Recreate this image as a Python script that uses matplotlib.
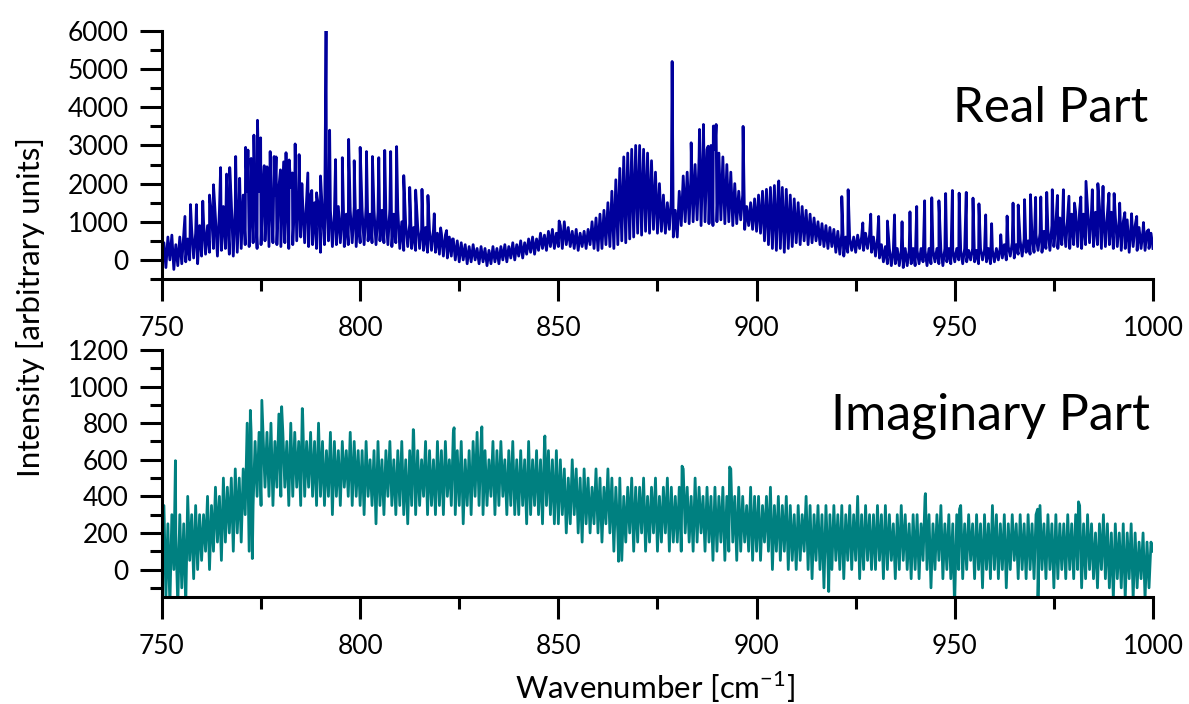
import matplotlib
matplotlib.use("Agg")
import matplotlib.pyplot as plt
from matplotlib.ticker import MultipleLocator

plt.rcParams["font.family"] = ["Lato", "DejaVu Sans"]
plt.rcParams["mathtext.fontset"] = "custom"
plt.rcParams["mathtext.rm"] = "Lato"

# Wavenumber grid: band minima at integer wavenumbers, band maxima at the half steps
WN_START = 750

# ---- Real part -------------------------------------------------------------
real_low = [
    -100, -200, 0, -250, -150, -100, -50, 0, 50, -100,
    100, 150, 200, 300, 100, 250, 300, 150, 100, 200,
    300, 400, 350, 450, 300, 400, 500, 350, 450, 400,
    350, 450, 300, 400, 500, 600, 450, 350, 400, 300,
    200, 400, 500, 350, 400, 450, 350, 400, 450, 350,
    450, 400, 500, 450, 400, 500, 450, 400, 350, 450,
    300, 250, 350, 300, 250, 300, 250, 200, 250, 200,
    150, 100, 50, 100, 0, -50, 0, -100, -50, 0,
    -100, -50, -150, -100, -50, -100, 0, -50, 50, 0,
    100, 50, 150, 200, 150, 250, 300, 250, 350, 300,
    350, 300, 400, 350, 300, 250, 350, 300, 400, 300,
    250, 300, 400, 350, 300, 400, 500, 450, 550, 600,
    700, 650, 750, 700, 800, 700, 750, 700, 800, 600,
    600, 900, 1000, 950, 1000, 1050, 900, 1000, 950, 900,
    1000, 1050, 950, 1000, 900, 950, 1050, 800, 900, 800,
    750, 700, 500, 400, 300, 250, 300, 200, 300, 350,
    450, 400, 500, 400, 450, 500, 400, 350, 300, 350,
    200, 150, 100, 200, 250, 200, 300, 250, 300, 200,
    100, 50, -50, -100, -150, -100, -150, -200, -150, -100,
    -150, -100, -50, -150, -100, -50, -100, -150, -50, -100,
    -50, 0, -100, -50, 0, -50, -100, 0, -50, -100,
    -50, 0, 50, 0, 100, 50, 150, 100, 200, 150,
    200, 250, 200, 300, 250, 350, 300, 400, 350, 300,
    400, 350, 300, 400, 450, 350, 400, 300, 350, 400,
    300, 350, 250, 300, 200, 350, 250, 300, 250, 300,
    300,
]

real_high = [
    450, 600, 650, 400, 600, 700, 550, 800, 700, 900,
    1000, 900, 1200, 1100, 1300, 1400, 1200, 1500, 1400, 1600,
    1700, 1800, 1900, 1700, 1800, 2000, 1900, 1800, 1700, 1900,
    2000, 1800, 1900, 1700, 1800, 1500, 1600, 1700, 1500, 1400,
    1200, 1700, 1300, 1200, 1400, 1300, 1200, 1300, 1400, 1300,
    1300, 1400, 1200, 1300, 1250, 1300, 1200, 1350, 1200, 1300,
    1000, 900, 950, 850, 900, 800, 850, 750, 800, 700,
    700, 650, 600, 550, 500, 450, 400, 350, 400, 300,
    350, 300, 250, 350, 300, 350, 400, 350, 450, 400,
    500, 450, 550, 600, 550, 700, 650, 750, 800, 700,
    900, 1000, 850, 750, 800, 700, 750, 800, 1000, 1100,
    1200, 1300, 1500, 1800, 2100, 2400, 2700, 2800, 2900, 3000,
    3000, 2900, 2800, 2600, 2300, 2000, 1700, 1500, 1600, 1300,
    1800, 2200, 2300, 2400, 2500, 2700, 2900, 2900, 3000, 2900,
    2800, 2700, 2500, 2300, 2000, 1800, 1700, 1400, 1500, 1600,
    1700, 1800, 1850, 1900, 1950, 2000, 1900, 1850, 1700, 1600,
    1500, 1400, 1300, 1200, 1100, 1000, 950, 900, 850, 800,
    750, 700, 600, 550, 600, 650, 600, 700, 650, 600,
    550, 400, 350, 300, 250, 300, 250, 300, 250, 300,
    250, 300, 250, 300, 250, 300, 250, 300, 300, 250,
    300, 250, 300, 250, 300, 250, 300, 250, 300, 250,
    300, 350, 400, 350, 450, 400, 500, 550, 500, 600,
    650, 700, 750, 800, 900, 950, 1100, 1000, 1150, 1200,
    1250, 1300, 1200, 1350, 1300, 1250, 1400, 1300, 1200, 1250,
    1150, 1100, 1000, 1050, 950, 900, 850, 800, 750, 700,
]

# Sharp rotational lines of the real part (wavenumber, intensity)
real_line_pos = [
    755.8, 757.2, 758.7, 760.3, 762.0, 763.0, 764.8, 766.3, 767.1, 768.6,
    769.6, 771.1, 771.7, 772.5, 773.2, 774.1, 774.9, 775.8, 776.5, 777.3,
    778.3, 778.8, 779.9, 780.7, 781.3, 782.1, 782.9, 783.6, 784.6, 785.3,
    786.8, 787.8, 789.0, 790.0, 791.4, 792.3, 793.8, 795.5, 797.1, 798.5,
    800.0, 801.6, 803.1, 804.7, 806.2, 807.7, 809.2, 811.0, 812.5, 814.0,
    815.6, 817.1, 818.7, 820.3, 821.8, 823.3, 850.2, 878.7, 883.5, 885.6,
    886.6, 887.8, 889.1, 889.8, 896.6, 905.6, 921.5, 923.1, 926.8, 928.8,
    930.8, 933.0, 934.8, 936.7, 938.7, 940.4, 942.4, 944.2, 946.0, 947.7,
    949.4, 951.1, 952.9, 954.6, 956.1, 957.8, 959.3, 961.6, 963.2, 964.7,
    966.0, 967.6, 969.1, 970.4, 971.7, 973.2, 974.6, 975.9, 977.4, 978.8,
    980.2, 981.8, 983.1, 984.7, 986.1, 987.4, 988.9, 990.2, 991.6, 992.9,
    994.6, 995.9, 997.6, 998.9,
]
real_line_val = [
    1140, 1450, 1450, 1540, 1700, 1970, 2420, 2250, 2420, 2710,
    2140, 2950, 2880, 2660, 3270, 3660, 3200, 2470, 2440, 2840,
    2710, 2700, 2360, 2570, 2810, 2620, 2280, 3040, 2760, 2000,
    2280, 1820, 1760, 2200, 6000, 3400, 2630, 2680, 3160, 2600,
    2950, 2840, 2710, 2680, 2870, 2840, 2970, 2210, 1900, 1830,
    1850, 1690, 1210, 840, 770, 550, 1020, 5200, 3070, 3420,
    3550, 2980, 3510, 3550, 3500, 2070, 1660, 1840, 970, 1200,
    1140, 1020, 1180, 1000, 1260, 1400, 1550, 1630, 1550, 1740,
    1820, 1750, 1770, 1620, 1470, 1180, 950, 660, 1150, 1490,
    1440, 1580, 1710, 1640, 1650, 1770, 1840, 1690, 1840, 1670,
    1490, 1650, 2060, 1840, 2000, 1930, 1750, 1740, 1490, 1240,
    1210, 1140, 980, 790,
]

# ---- Imaginary part --------------------------------------------------------
imag_low = [
    -200, -150, -200, 0, -200, -100, -200, 50, -50, 0,
    50, 100, 0, 100, 150, 50, 150, 200, 100, 200,
    150, 300, 100, 350, 400, 350, 450, 400, 350, 450,
    400, 450, 350, 400, 450, 350, 400, 450, 400, 350,
    400, 350, 400, 300, 400, 350, 450, 400, 350, 400,
    350, 300, 400, 350, 250, 350, 300, 400, 350, 300,
    350, 300, 250, 350, 300, 350, 400, 300, 350, 300,
    350, 300, 400, 350, 300, 350, 250, 350, 300, 400,
    350, 300, 350, 400, 300, 350, 400, 300, 350, 300,
    300, 350, 250, 300, 350, 300, 250, 350, 300, 250,
    250, 300, 200, 250, 300, 200, 150, 250, 200, 250,
    200, 150, 250, 200, 100, 200, 50, 150, 200, 100,
    150, 200, 100, 150, 200, 100, 150, 200, 100, 150,
    150, 100, 200, 150, 100, 150, 200, 100, 150, 50,
    100, 150, 50, 100, 150, 50, 100, 150, 100, 50,
    100, 50, 150, 100, 0, 100, 50, 100, 0, 50,
    0, 50, 100, 0, -50, 50, 0, -100, 50, 0,
    50, 0, -50, 50, 0, 50, -50, 0, 50, 0,
    0, 50, -50, 0, 50, -50, 0, 50, 0, -50,
    0, -50, 50, 0, -100, 0, 50, -50, 0, -50,
    -160, 0, -50, 0, 50, -50, 0, -100, 0, -50,
    0, -50, 0, -100, 0, 50, -50, 0, -50, 0,
    -50, -150, 0, -50, 0, -100, -50, 0, -50, 0,
    -50, 0, -100, -50, 0, -50, -100, 0, -50, -100,
    -160, -50, -100, -160, -50, -160, -100, -50, -160, -100,
    100,
]

imag_high = [
    350, 250, 300, 200, 300, 250, 400, 300, 350, 300,
    300, 400, 350, 450, 400, 500, 450, 500, 550, 500,
    550, 800, 750, 700, 750, 750, 750, 800, 700, 850,
    750, 700, 800, 750, 700, 850, 700, 750, 700, 800,
    700, 650, 750, 700, 650, 700, 650, 750, 700, 650,
    650, 700, 600, 650, 700, 600, 650, 700, 600, 650,
    700, 600, 650, 750, 650, 600, 700, 650, 600, 700,
    650, 700, 600, 750, 650, 700, 600, 650, 700, 750,
    700, 650, 600, 700, 650, 700, 600, 650, 700, 600,
    650, 600, 700, 600, 650, 600, 700, 650, 600, 650,
    600, 550, 500, 600, 550, 500, 550, 500, 450, 550,
    500, 450, 550, 500, 450, 500, 400, 450, 500, 450,
    450, 500, 400, 450, 500, 400, 450, 500, 450, 400,
    450, 550, 450, 400, 500, 450, 400, 450, 400, 450,
    400, 450, 400, 550, 400, 450, 400, 350, 450, 400,
    400, 350, 400, 450, 350, 400, 350, 400, 350, 300,
    350, 300, 400, 350, 300, 350, 300, 350, 300, 350,
    300, 350, 300, 350, 300, 400, 300, 350, 300, 300,
    350, 300, 350, 300, 250, 300, 350, 300, 250, 300,
    300, 250, 400, 300, 250, 300, 350, 250, 300, 250,
    300, 350, 250, 300, 250, 300, 250, 300, 250, 350,
    300, 250, 300, 250, 300, 250, 300, 250, 300, 250,
    300, 350, 250, 300, 250, 300, 250, 250, 300, 250,
    300, 350, 250, 300, 250, 200, 250, 300, 250, 200,
    250, 200, 250, 200, 250, 200, 150, 200, 150, 150,
]

# Isolated noise spikes of the imaginary part (wavenumber, intensity)
imag_spike_pos = [753.4, 772.3, 772.8, 775.2, 780.2, 785.4, 813.4, 823.7, 830.7, 846.6,
                  865.2, 881.2, 893.2, 918.2, 942.6, 949.9, 951.2, 970.9, 981.2]
imag_spike_val = [595, 870, 60, 925, 890, 880, 765, 775, 780, 730,
                  45, 565, 560, -120, 415, -160, 330, 330, 370]


def assemble(low, high, extra_pos, extra_val):
    pts = []
    for i, v in enumerate(low):
        pts.append((WN_START + i, v))
    for i, v in enumerate(high):
        pts.append((WN_START + i + 0.5, v))
    pts += list(zip(extra_pos, extra_val))
    pts.sort(key=lambda p: p[0])
    return [p[0] for p in pts], [p[1] for p in pts]


real_x, real_y = assemble(real_low, real_high, real_line_pos, real_line_val)
imag_x, imag_y = assemble(imag_low, imag_high, imag_spike_pos, imag_spike_val)

fig = plt.figure(figsize=(11.89, 7.04), dpi=100)
ax1 = fig.add_axes([0.1362, 0.6037, 0.8335, 0.3523])
ax2 = fig.add_axes([0.1362, 0.1520, 0.8335, 0.3509])

ax1.plot(real_x, real_y, color="#00009C", lw=2.0)
ax2.plot(imag_x, imag_y, color="#008080", lw=2.0)

ax1.set_ylim(-500, 6000)
ax2.set_ylim(-150, 1200)
ax1.yaxis.set_major_locator(MultipleLocator(1000))
ax1.yaxis.set_minor_locator(MultipleLocator(500))
ax2.yaxis.set_major_locator(MultipleLocator(200))
ax2.yaxis.set_minor_locator(MultipleLocator(100))

for ax in (ax1, ax2):
    ax.set_xlim(750, 1000)
    ax.xaxis.set_major_locator(MultipleLocator(50))
    ax.xaxis.set_minor_locator(MultipleLocator(25))
    ax.spines["top"].set_visible(False)
    ax.spines["right"].set_visible(False)
    for s in ("left", "bottom"):
        ax.spines[s].set_linewidth(2.2)
    ax.tick_params(which="major", direction="out", length=16, width=2.2,
                   labelsize=19, colors="black")
    ax.tick_params(which="minor", direction="out", length=8.5, width=2.2)
    ax.tick_params(axis="x", which="major", pad=11)
    ax.tick_params(axis="y", which="major", pad=8)
    ax.patch.set_alpha(0)

ax1.text(0.995, 0.633, "Real Part", transform=ax1.transAxes, ha="right",
         va="baseline", fontsize=35.5)
ax2.text(0.997, 0.676, "Imaginary Part", transform=ax2.transAxes, ha="right",
         va="baseline", fontsize=36)

fig.text(0.026, 0.564, "Intensity [arbitrary units]", rotation=90,
         ha="center", va="center", fontsize=22.5)
fig.text(0.551, 0.024, r"Wavenumber [cm$^{\mathregular{-1}}$]",
         ha="center", va="center", fontsize=22.5)

fig.savefig("out.png", dpi=100)
